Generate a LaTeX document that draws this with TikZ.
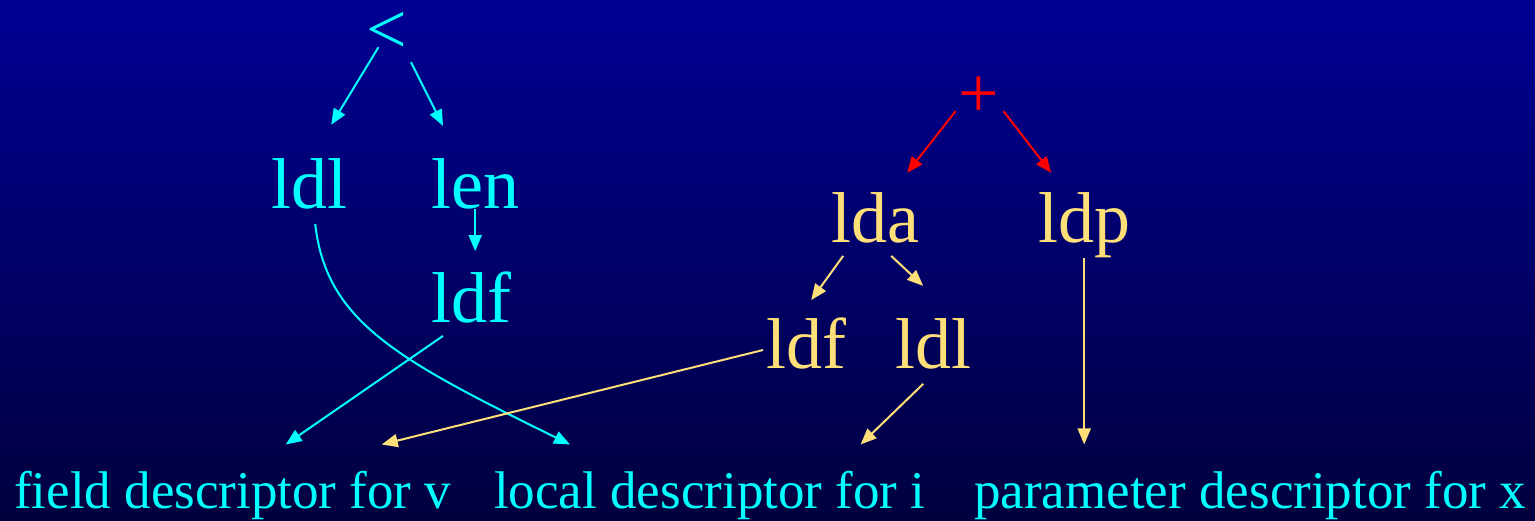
\documentclass[tikz,border=0pt]{standalone}
\usepackage{fontspec}
\setmainfont{Liberation Serif}
\usepackage{tikz}
\usetikzlibrary{arrows.meta,calc}
\definecolor{nodecyan}{HTML}{00FFFF}
\definecolor{nodeyel}{HTML}{FFDF78}
\definecolor{opred}{HTML}{FF0000}
\definecolor{bgtop}{RGB}{0,0,148}
\definecolor{bgbot}{RGB}{0,0,62}
\tikzset{
  word/.style={text=#1, inner sep=0pt, anchor=base west,
               font=\fontsize{72}{72}\selectfont},
  desc/.style={text=nodecyan, inner sep=0pt, anchor=base west,
               font=\fontsize{53}{53}\selectfont},
  arr/.style={-{Triangle[length=16pt,width=13pt]}, line width=2pt, draw=#1},
}
\begin{document}
\begin{tikzpicture}[x=1pt,y=-1pt]
  \shade[top color=bgtop, bottom color=bgbot] (0,0) rectangle (1535,520);
  \useasboundingbox (0,0) rectangle (1535,520);
  % left tree
  \node[word=nodecyan] (lt)   at (366,53)  {<};
  \node[word=nodecyan] (ldlc) at (271,208) {ldl};
  \node[word=nodecyan] (len)  at (431,208) {len};
  \node[word=nodecyan] (ldfc) at (431,322) {ldf};
  % right tree
  \node[word=opred]   (plus) at (958,117)  {+};
  \node[word=nodeyel] (lda)  at (831,242)  {lda};
  \node[word=nodeyel] (ldp)  at (1038,242) {ldp};
  \node[word=nodeyel] (ldfy) at (766,368)  {ldf};
  \node[word=nodeyel] (ldly) at (895,368)  {ldl};
  % descriptors
  \node[desc] (fld) at (14,508)  {field descriptor for v};
  \node[desc] (loc) at (494,508) {local descriptor for i};
  \node[desc] (par) at (974,508) {parameter descriptor for x};
  % cyan connectors
  \draw[arr=nodecyan] ([xshift=-8pt,yshift=6pt]lt.south) -- ([xshift=22pt,yshift=33pt]ldlc.north);
  \draw[arr=nodecyan] ([xshift=4pt,yshift=-9pt]lt.south east) -- ([xshift=12pt,yshift=32pt]len.north west);
  \draw[arr=nodecyan, shorten >=20pt] (len.south) -- (len.south |- ldfc.north);
  \draw[arr=nodecyan] ([xshift=12pt,yshift=-13pt]ldfc.south west) -- ([xshift=53pt,yshift=26pt]fld.north);
  \draw[arr=nodecyan] ([xshift=6pt,yshift=-15pt]ldlc.south)
    .. controls +(11,97) and +(-175,-86) .. ([xshift=76pt,yshift=26pt]loc.north west);
  % red connectors
  \draw[arr=opred] ([xshift=-23pt,yshift=6pt]plus.south) -- ([xshift=32pt,yshift=19pt]lda.north);
  \draw[arr=opred] ([xshift=25pt,yshift=6pt]plus.south) -- ([xshift=-33pt,yshift=19pt]ldp.north);
  % yellow connectors
  \draw[arr=nodeyel] ([xshift=-32pt,yshift=-13pt]lda.south) -- ([xshift=5pt,yshift=17pt]ldfy.north);
  \draw[arr=nodeyel] ([xshift=16pt,yshift=-13pt]lda.south) -- ([xshift=-10pt,yshift=32pt]ldly.north);
  \draw[arr=nodeyel] ([xshift=-3pt,yshift=-7pt]ldfy.west) -- ([xshift=149pt,yshift=26pt]fld.north);
  \draw[arr=nodeyel] ([xshift=-10pt,yshift=-15pt]ldly.south) -- ([xshift=-65pt,yshift=26pt]loc.north east);
  \draw[arr=nodeyel, shorten >=26pt] (ldp.south) -- (ldp.south |- par.north);
\end{tikzpicture}
\end{document}
